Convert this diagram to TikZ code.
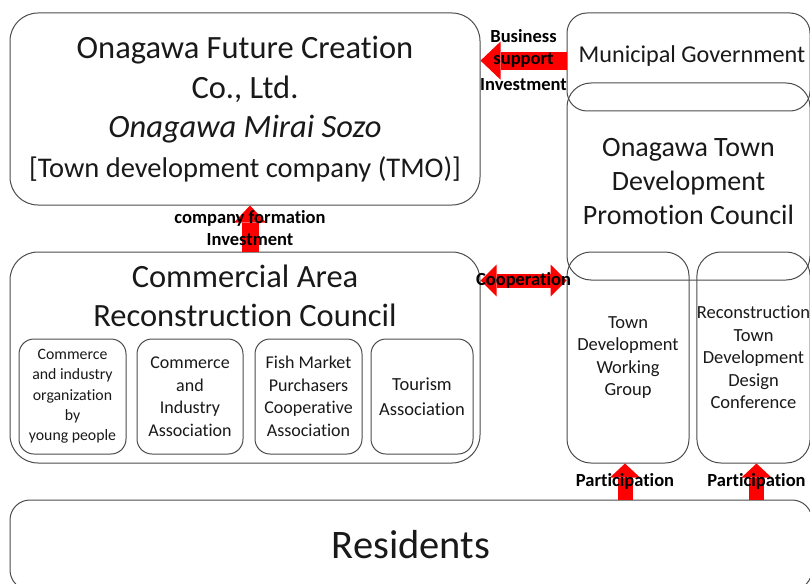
\documentclass[tikz,border=0pt]{standalone}
\usepackage{fontspec}
\setmainfont{Carlito}[Ligatures={NoCommon,NoContextual}]
\usetikzlibrary{arrows.meta}
\begin{document}
\begin{tikzpicture}[x=1pt,y=-1pt,
	box/.style={draw=black!70, line width=1pt, rounded corners=#1, align=center, inner sep=0pt, text=black!90},
	box/.default=22pt,
	lbl/.style={font=\fontsize{18.5}{22}\selectfont\bfseries, align=center, inner sep=0pt, text=black},
	blk/.style={red, line width=#1},
	]
	\clip (0,0) rectangle (810,583);
	\node[box=28pt, minimum width=470pt, minimum height=192pt, font=\fontsize{32.5}{39.5}\selectfont] (tmo) at (245,109) {Onagawa Future Creation\\Co., Ltd.\\\textit{Onagawa Mirai Sozo}\\{\fontsize{28.5}{37}\selectfont[Town development company (TMO)]}};
	\node[box=28pt, minimum width=470pt, minimum height=211pt] (comm) at (245,357.5) {};
	\node[font=\fontsize{32.5}{39}\selectfont, align=center, text=black!90] (commT) at (245,296) {Commercial Area\\Reconstruction Council};
	\node[box=15pt, minimum width=107pt, minimum height=115pt, font=\fontsize{15.8}{20.3}\selectfont] (young) at (72.5,396.5) {Commerce\\and industry\\organization\\by\\young people};
	\node[box=15pt, minimum width=106pt, minimum height=115pt, font=\fontsize{18}{22.5}\selectfont] (cia) at (190,396.5) {Commerce\\and\\Industry\\Association};
	\node[box=15pt, minimum width=107pt, minimum height=115pt, font=\fontsize{18}{22.5}\selectfont] (fish) at (308.5,396.5) {Fish Market\\Purchasers\\Cooperative\\Association};
	\node[box=15pt, minimum width=102pt, minimum height=115pt, font=\fontsize{18.5}{25}\selectfont] (tour) at (422,396.5) {Tourism\\Association};
	\node[box=20pt, minimum width=243pt, minimum height=98pt] (munic) at (688.5,62) {};
	\node[anchor=base, font=\fontsize{24.2}{28}\selectfont, text=black!90] (municT) at (692,63) {Municipal Government};
	\node[box=24pt, minimum width=243pt, minimum height=197pt, font=\fontsize{28}{34}\selectfont] (promo) at (688.5,181.5) {Onagawa Town\\Development\\Promotion Council};
	\node[box=24pt, minimum width=122pt, minimum height=211pt, font=\fontsize{18.5}{22.5}\selectfont] (wg) at (628,357.5) {Town\\Development\\Working\\Group};
	\node[box=24pt, minimum width=113pt, minimum height=211pt, font=\fontsize{18.5}{22.5}\selectfont] (rec) at (753.5,357.5) {Reconstruction\\Town\\Development\\Design\\Conference};
	\node[box=20pt, minimum width=802pt, minimum height=90pt, font=\fontsize{40.5}{46}\selectfont] (res) at (411,545) {Residents};
	\draw[blk=18pt, -{Triangle[width=38pt,length=20pt,line width=0pt]}] (munic.west |- municT.mid) -- (tmo.east |- municT.mid)
		node[lbl, pos=0.5] (supL) {support}
		node[lbl, pos=0.5, yshift=25pt] (bizL) {Business}
		node[lbl, pos=0.5, yshift=-24pt] (invL) {Investment};
	\draw[blk=17pt, -{Triangle[width=32pt,length=17pt,line width=0pt]}] ([xshift=5pt]comm.north) -- ([xshift=5pt]tmo.south)
		node[lbl, midway] (formL) {company formation\\Investment};
	\draw[blk=14pt, {Triangle[width=32pt,length=16pt,line width=0pt]}-{Triangle[width=32pt,length=16pt,line width=0pt]}] (comm.east |- promo.south) -- (wg.west |- promo.south)
		node[lbl, midway] (coopL) {Cooperation};
	\draw[blk=15pt, -{Triangle[width=30pt,length=14pt,line width=0pt]}] ([xshift=-3pt]res.north -| wg.south) -- ([xshift=-3pt]wg.south)
		node[lbl, midway] (partA) {Participation};
	\draw[blk=15pt, -{Triangle[width=30pt,length=14pt,line width=0pt]}] ([xshift=3pt]res.north -| rec.south) -- ([xshift=3pt]rec.south)
		node[lbl, midway] (partB) {Participation};
\end{tikzpicture}
\end{document}
